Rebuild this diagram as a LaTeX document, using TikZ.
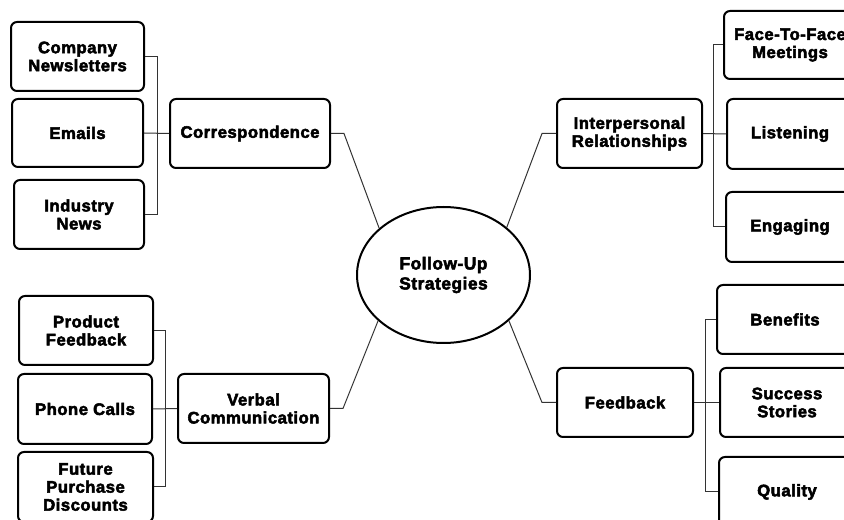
\documentclass[tikz,border=0pt]{standalone}
\usepackage{fontspec}
\setmainfont{Liberation Sans}[BoldFeatures={FakeBold=3,LetterSpace=3}]
\usetikzlibrary{shapes.geometric}
\begin{document}
\begin{tikzpicture}[x=0.75pt,y=-0.75pt,
  box/.style={draw=black,line width=1.5pt,rounded corners=4.5pt,align=center,
    inner sep=0pt,font=\fontsize{12.5}{13.5}\selectfont\bfseries},
  conn/.style={draw=black!80,line width=0.75pt},
  hub/.style={draw=black,line width=1.5pt,ellipse,inner sep=0pt,align=center,
    minimum width=129.75pt,minimum height=102pt,font=\fontsize{13}{15}\selectfont\bfseries}]
\useasboundingbox (0,0) rectangle (844,520);
% hub
\node[hub] (fu) at (443.5,275) {Follow-Up\\Strategies};
% left top
\node[box,minimum width=99.75pt,minimum height=51.75pt] (cnews) at (77.5,56.5) {Company\\Newsletters};
\node[box,minimum width=98.25pt,minimum height=51pt] (emails) at (77.5,133) {Emails};
\node[box,minimum width=97.5pt,minimum height=51.75pt] (ind) at (79,214.5) {Industry\\News};
\node[box,minimum width=120pt,minimum height=51.75pt] (corr) at (250,133.5) {Correspondence};
% right top
\node[box,minimum width=108.75pt,minimum height=51.75pt] (inter) at (629.5,133.5) {Interpersonal\\Relationships};
\node[box,minimum width=99pt,minimum height=51pt] (face) at (790,45) {Face-To-Face\\Meetings};
\node[box,minimum width=94.5pt,minimum height=52.5pt] (listen) at (790,134) {Listening};
\node[box,minimum width=96pt,minimum height=52.5pt] (engage) at (790,227) {Engaging};
% left bottom
\node[box,minimum width=100.5pt,minimum height=51.75pt] (prod) at (86,330.5) {Product\\Feedback};
\node[box,minimum width=100.5pt,minimum height=52.5pt] (phone) at (85,409) {Phone Calls};
\node[box,minimum width=101.25pt,minimum height=52.5pt] (future) at (85.5,487) {Future\\Purchase\\Discounts};
\node[box,minimum width=113.25pt,minimum height=51.75pt] (verbal) at (253.5,408.5) {Verbal\\Communication};
% right bottom
\node[box,minimum width=102pt,minimum height=51.75pt] (feed) at (625,402.5) {Feedback};
\node[box,minimum width=102pt,minimum height=51.75pt] (bene) at (785,319.5) {Benefits};
\node[box,minimum width=100.5pt,minimum height=51.75pt] (succ) at (787,402.5) {Success\\Stories};
\node[box,minimum width=102pt,minimum height=52.5pt] (qual) at (787,492) {Quality};
% bracket positions
\coordinate (xa) at (157,0);
\coordinate (xb) at (713,0);
\coordinate (xc) at (165,0);
\coordinate (xd) at (705,0);
% brackets
\draw[conn] (cnews.east) -- (cnews.east -| xa) |- (corr.west);
\draw[conn] (emails.east) -- (corr.west);
\draw[conn] (ind.east) -- (ind.east -| xa) |- (corr.west);
\draw[conn] (face.west) -- (face.west -| xb) |- (inter.east);
\draw[conn] (listen.west) -- (inter.east);
\draw[conn] (engage.west) -- (engage.west -| xb) |- (inter.east);
\draw[conn] (prod.east) -- (prod.east -| xc) |- (verbal.west);
\draw[conn] (phone.east) -- (verbal.west);
\draw[conn] (future.east) -- (future.east -| xc) |- (verbal.west);
\draw[conn] (bene.west) -- (bene.west -| xd) |- (feed.east);
\draw[conn] (succ.west) -- (feed.east);
\draw[conn] (qual.west) -- (qual.west -| xd) |- (feed.east);
% hub connectors
\draw[conn] (corr.east) -- ++(13,0) -- (fu.144.5);
\draw[conn] (inter.west) -- ++(-14,0) -- (fu.37.5);
\draw[conn] (verbal.east) -- ++(13,0) -- (fu.215.2);
\draw[conn] (feed.west) -- ++(-14,0) -- (fu.325.5);
\end{tikzpicture}
\end{document}
